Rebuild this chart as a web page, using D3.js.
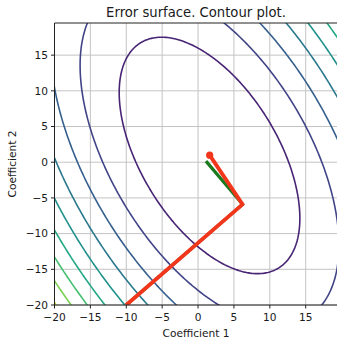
<!DOCTYPE html>
<html>
<head>
<meta charset="utf-8">
<script src="https://cdn.jsdelivr.net/npm/d3@7"></script>
<style>
  body { margin: 0; background: #fff; }
  text { font-family: "DejaVu Sans", sans-serif; fill: #1a1a1a; }
</style>
</head>
<body>
<svg id="chart" width="337" height="339"></svg>
<script>
// axis ticks
var xTicks = [-20, -15, -10, -5, 0, 5, 10, 15];
var yTicks = [-20, -15, -10, -5, 0, 5, 10, 15];

// error surface: minimum, quadratic form [a, b, c] and floor (in level units)
var surfaceCenter = [1.6, 0.95];
var surfaceQuad = [0.008354, 0.003373, 0.004826];
var surfaceFloor = 0.05;
var contourLevels = [1, 2, 3, 4, 5, 6, 7, 8, 9];
var levelMax = 10;

// descent paths (coefficient 1, coefficient 2)
var exactPath = [[-10, -20], [6.2, -5.9], [1.1, 0.15]];
var gdPath = [[-10, -20], [6.2, -5.9], [1.62, 0.99]];

var svg = d3.select("#chart");

var x = d3.scaleLinear().domain([-20, 19.5]).range([54.5, 338]);
var y = d3.scaleLinear().domain([-20, 19.5]).range([305, 23]);

svg.append("defs").append("clipPath")
    .attr("id", "plot-clip")
  .append("rect")
    .attr("x", x(-20))
    .attr("y", y(19.5))
    .attr("width", x(19.5) - x(-20))
    .attr("height", y(-20) - y(19.5));

// grid
svg.append("g")
  .selectAll("line")
  .data(xTicks)
  .enter().append("line")
    .attr("x1", d => x(d)).attr("x2", d => x(d))
    .attr("y1", y(-20)).attr("y2", y(19.5))
    .style("stroke", "#c4c4c4")
    .style("stroke-width", 1);

svg.append("g")
  .selectAll("line")
  .data(yTicks)
  .enter().append("line")
    .attr("x1", x(-20)).attr("x2", x(19.5))
    .attr("y1", d => y(d)).attr("y2", d => y(d))
    .style("stroke", "#c4c4c4")
    .style("stroke-width", 1);

// sample the surface on a grid a bit larger than the plot, then clip
var step = 0.25;
var gx = d3.range(-21, 20.51, step);
var gy = d3.range(-21, 20.51, step);
var values = [];
gy.forEach(function(v) {
  gx.forEach(function(u) {
    var dx = u - surfaceCenter[0], dy = v - surfaceCenter[1];
    values.push(surfaceQuad[0] * dx * dx + 2 * surfaceQuad[1] * dx * dy + surfaceQuad[2] * dy * dy + surfaceFloor);
  });
});

var contours = d3.contours()
    .size([gx.length, gy.length])
    .thresholds(contourLevels)(values);

var gridPath = d3.geoPath(d3.geoTransform({
  point: function(px, py) {
    this.stream.point(x(gx[0] + (px - 0.5) * step), y(gy[0] + (py - 0.5) * step));
  }
}));

svg.append("g")
    .attr("clip-path", "url(#plot-clip)")
  .selectAll("path")
  .data(contours)
  .enter().append("path")
    .attr("d", gridPath)
    .style("fill", "none")
    .style("stroke", d => d3.interpolateViridis(d.value / levelMax))
    .style("stroke-width", 1.6);

// paths
var line = d3.line().x(d => x(d[0])).y(d => y(d[1]));
var paths = svg.append("g").attr("clip-path", "url(#plot-clip)");

paths.append("path")
    .datum(exactPath)
    .attr("d", line)
    .style("fill", "none")
    .style("stroke", "#1b7a1d")
    .style("stroke-width", 3.2);

paths.append("path")
    .datum(gdPath)
    .attr("d", line)
    .style("fill", "none")
    .style("stroke", "#f2361c")
    .style("stroke-width", 3.8)
    .style("stroke-linejoin", "round");

paths.append("circle")
    .attr("cx", x(gdPath[gdPath.length - 1][0]))
    .attr("cy", y(gdPath[gdPath.length - 1][1]))
    .attr("r", 3.6)
    .style("fill", "#f2361c");

// spines
svg.append("path")
    .attr("d", "M" + x(19.5) + "," + y(19.5) + "H" + x(-20) + "V" + y(-20) + "H" + x(19.5))
    .style("fill", "none")
    .style("stroke", "#222")
    .style("stroke-width", 1);

// ticks
svg.append("g")
  .selectAll("line")
  .data(xTicks)
  .enter().append("line")
    .attr("x1", d => x(d)).attr("x2", d => x(d))
    .attr("y1", y(-20)).attr("y2", y(-20) + 3.5)
    .style("stroke", "#222");

svg.append("g")
  .selectAll("text")
  .data(xTicks)
  .enter().append("text")
    .attr("x", d => x(d))
    .attr("y", y(-20) + 16)
    .attr("font-size", "10.6px")
    .style("text-anchor", "middle")
    .text(d => d3.format("d")(d).replace("-", "\u2212"));

svg.append("g")
  .selectAll("line")
  .data(yTicks)
  .enter().append("line")
    .attr("x1", x(-20) - 3.5).attr("x2", x(-20))
    .attr("y1", d => y(d)).attr("y2", d => y(d))
    .style("stroke", "#222");

svg.append("g")
  .selectAll("text")
  .data(yTicks)
  .enter().append("text")
    .attr("x", x(-20) - 6.5)
    .attr("y", d => y(d) + 3.8)
    .attr("font-size", "10.6px")
    .style("text-anchor", "end")
    .text(d => d3.format("d")(d).replace("-", "\u2212"));

// labels
svg.append("text")
    .attr("x", 196)
    .attr("y", 336.5)
    .attr("font-size", "10.6px")
    .style("text-anchor", "middle")
    .text("Coefficient 1");

svg.append("text")
    .attr("transform", "translate(16,164) rotate(-90)")
    .attr("font-size", "10.6px")
    .style("text-anchor", "middle")
    .text("Coefficient 2");

svg.append("text")
    .attr("x", 196)
    .attr("y", 17)
    .attr("font-size", "13.2px")
    .style("text-anchor", "middle")
    .text("Error surface. Contour plot.");
</script>
</body>
</html>
